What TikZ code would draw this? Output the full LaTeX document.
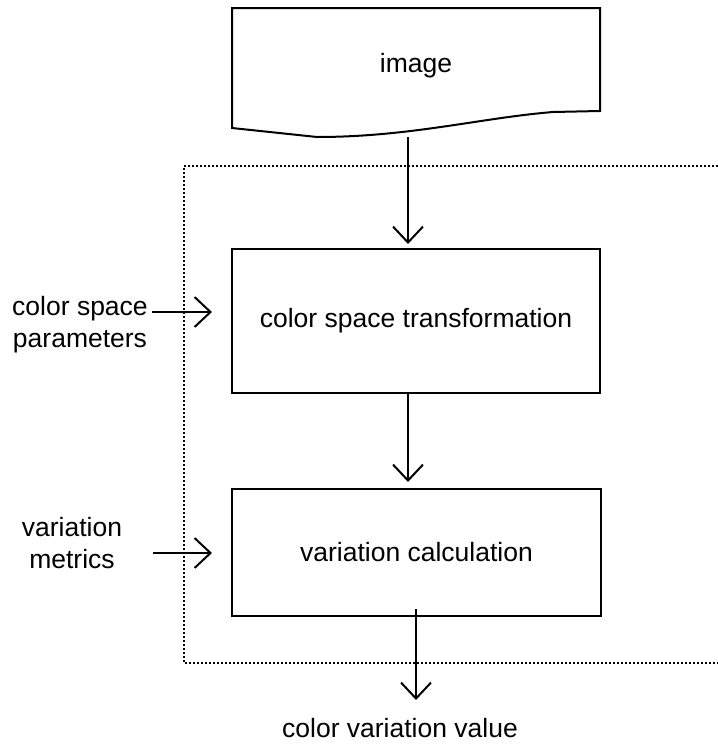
\documentclass[tikz,border=0pt]{standalone}
\usepackage{fontspec}
\setmainfont{Liberation Sans}
\usetikzlibrary{arrows.meta}
\begin{document}
\begin{tikzpicture}[x=1pt,y=-1pt,
  lbl/.style={font=\fontsize{26.5}{32}\selectfont, inner sep=0pt},
  procbox/.style={draw, line width=2pt, inner sep=0pt},
  arr/.style={line width=2pt, -{Straight Barb[length=16pt,width=30pt,line width=2pt]}},
  frame/.style={line width=2.2pt, dash pattern=on 2pt off 2pt}]
\useasboundingbox (0,0) rectangle (718,745);
% document (image) shape
\draw[line width=2pt, line join=miter]
  (232,128) -- (232,8) -- (600,8) -- (600,111) -- (553,112)
  .. controls (480,118) and (410,137) .. (317,137) -- cycle;
\node[lbl] (img) at (416,66) {image};
\coordinate (imgb) at (408,137);
% dotted frame
\draw[frame] (718,166) -- (184,166) -- (184,663) -- (718,663);
% process boxes
\node[procbox, minimum width=368pt, minimum height=144pt, lbl] (cst) at (416,321) {color space transformation};
\node[procbox, minimum width=369pt, minimum height=127pt, lbl] (vc) at (416.5,552.5) {variation calculation};
% side inputs
\node[lbl, align=center, anchor=base] (csp) at (80,347) {color space\\parameters};
\node[lbl, align=center, anchor=base] (vm) at (72,568) {variation\\metrics};
\coordinate (cspA) at (152,312);
\coordinate (cspB) at (212,312);
\coordinate (vmA) at (153,553);
\coordinate (vmB) at (212,553);
\draw[arr] (cspA) -- (cspB);
\draw[arr] (vmA) -- (vmB);
% vertical connectors
\draw[arr, shorten >=4pt] (imgb) -- (imgb |- cst.north);
\coordinate (c1) at (408,393);
\draw[arr, shorten >=6pt] (c1) -- (c1 |- vc.north);
\coordinate (outA) at (416,609);
\coordinate (outB) at (416,700);
\draw[arr] (outA) -- (outB);
\node[lbl] (cvv) at (400,728) {color variation value};
\end{tikzpicture}
\end{document}
